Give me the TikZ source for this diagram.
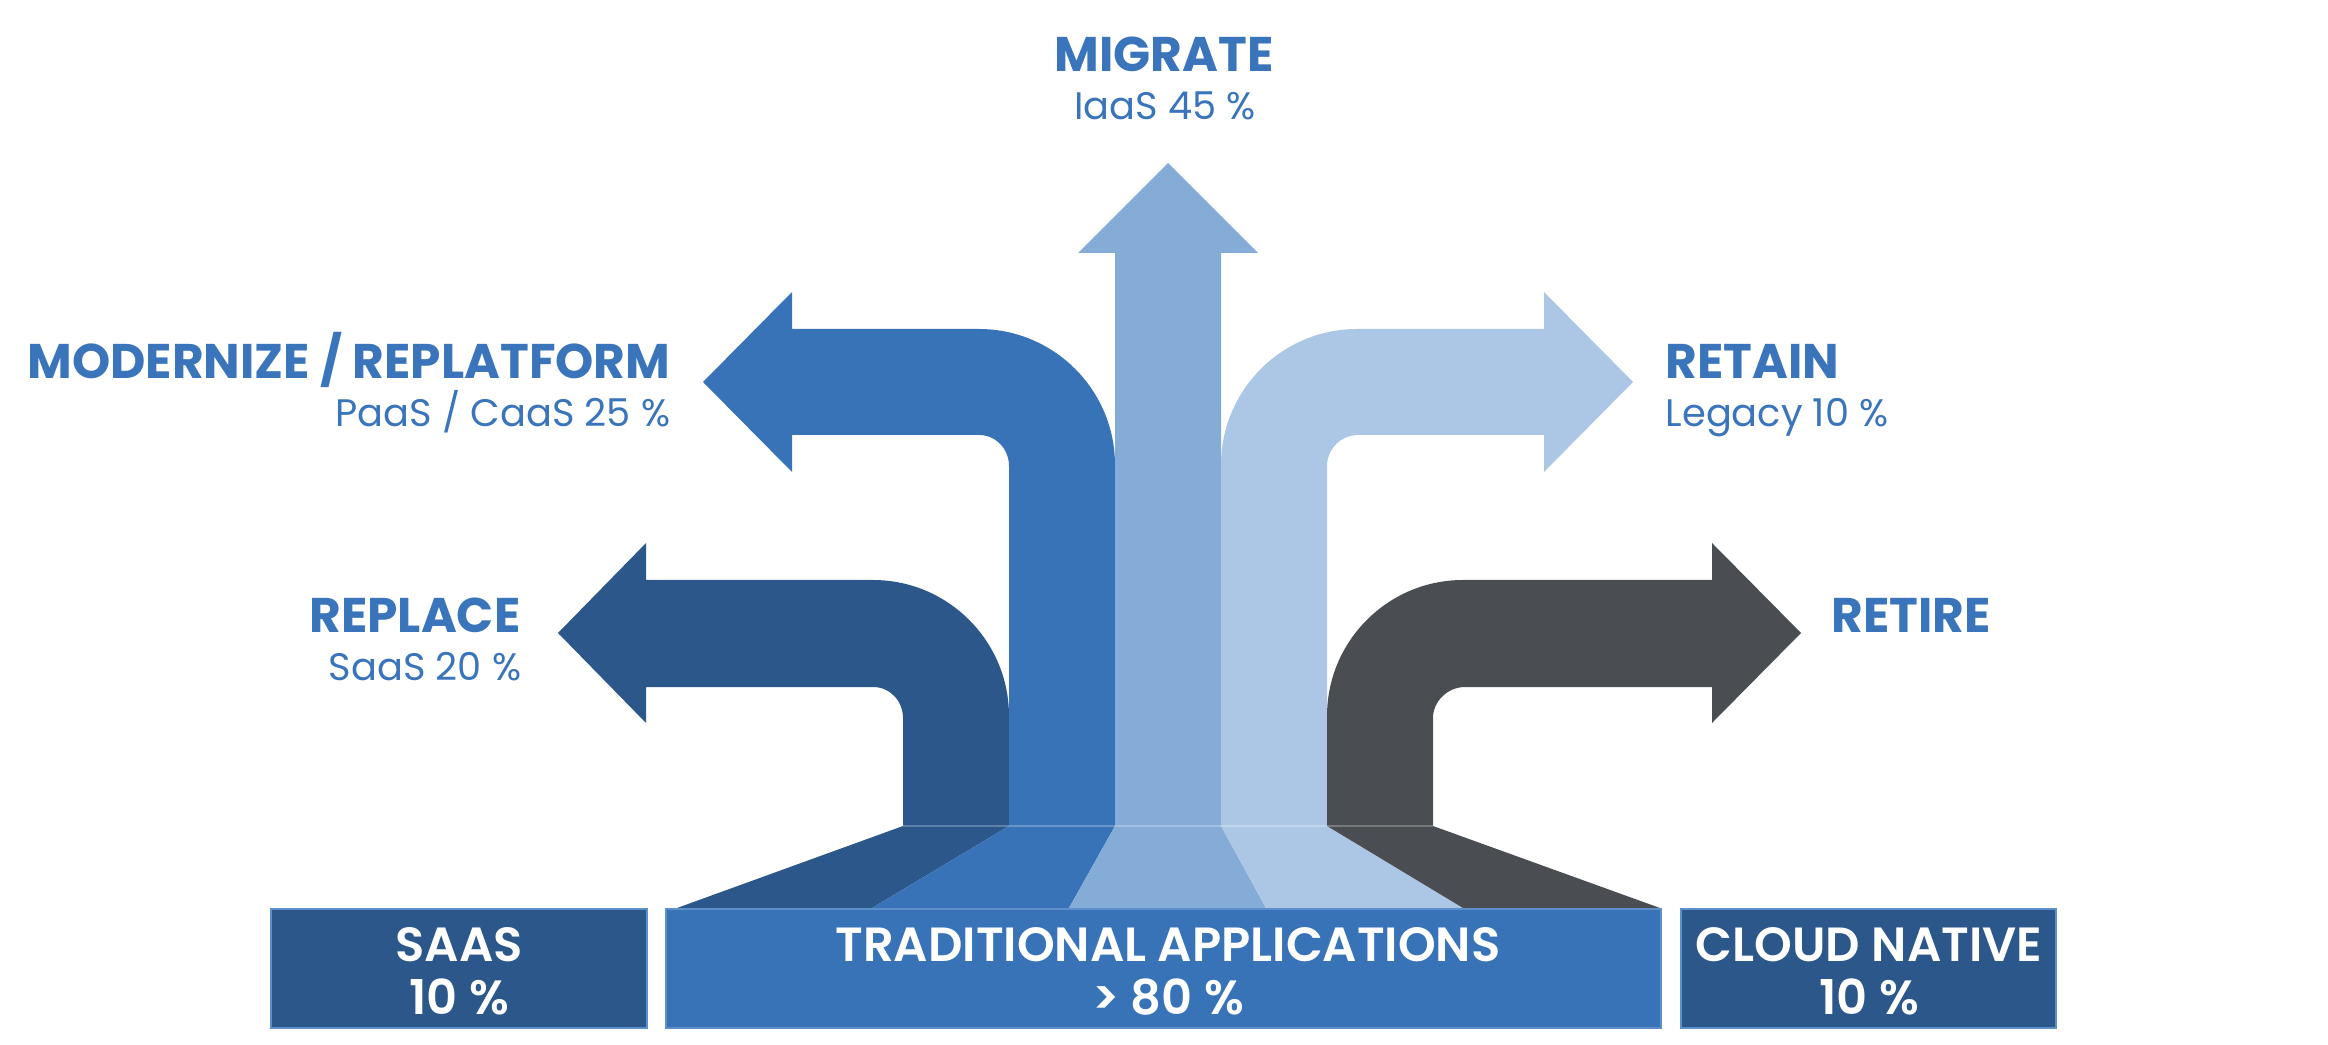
\documentclass[tikz,border=0pt]{standalone}
\usepackage{fontspec}
\setmainfont{Poppins}
\newfontfamily\semib{Poppins SemiBold}
\definecolor{cdark}{HTML}{2C578A}
\definecolor{cmid}{HTML}{3873B8}
\definecolor{cmig}{HTML}{84ACD7}
\definecolor{cret}{HTML}{ABC7E5}
\definecolor{cgray}{HTML}{4A4E52}
\definecolor{ctext}{HTML}{3A74BA}
\definecolor{cedge}{HTML}{5D8FCB}
\tikzset{
  title/.style={inner sep=0pt, text=ctext, font=\fontsize{14.6}{17}\selectfont\bfseries},
  sub/.style={inner sep=0pt, text=ctext, font=\fontsize{11.5}{14}\selectfont},
  boxtxt/.style={inner sep=0pt, text=white, font=\fontsize{14.4}{17}\selectfont\semib},
  boxshape/.style={draw=cedge, line width=0.35pt},
}
\begin{document}
\begin{tikzpicture}[x=0.3pt, y=-0.3pt]
\useasboundingbox (0,0) rectangle (2328,1045);
% REPLACE arrow
\fill[cdark] (1009,826) -- (1009,716) .. controls (1009,641) and (948,580) .. (873,580)
  -- (646,580) -- (646,543) -- (558,633) -- (646,723) -- (646,687) -- (873,687)
  .. controls (890,687) and (903,701) .. (903,718) -- (903,826) -- cycle;
% MODERNIZE arrow
\fill[cmid] (1115,826) -- (1115,465) .. controls (1115,390) and (1054,329) .. (979,329)
  -- (792,329) -- (792,292) -- (703,382) -- (792,472) -- (792,435) -- (979,435)
  .. controls (996,435) and (1009,449) .. (1009,466) -- (1009,826) -- cycle;
% MIGRATE arrow
\fill[cmig] (1115,826) -- (1115,253) -- (1078,253) -- (1168,163) -- (1258,253)
  -- (1221,253) -- (1221,826) -- cycle;
% RETAIN arrow
\fill[cret] (1221,826) -- (1221,465) .. controls (1221,390) and (1282,329) .. (1357,329)
  -- (1544,329) -- (1544,292) -- (1633,382) -- (1544,472) -- (1544,435) -- (1358,435)
  .. controls (1341,435) and (1327,449) .. (1327,466) -- (1327,826) -- cycle;
% RETIRE arrow
\fill[cgray] (1327,826) -- (1327,716) .. controls (1327,641) and (1388,580) .. (1463,580)
  -- (1712,580) -- (1712,543) -- (1801,633) -- (1712,723) -- (1712,687) -- (1465,687)
  .. controls (1448,687) and (1433,701) .. (1433,718) -- (1433,826) -- cycle;
% funnel
\fill[cdark] (903,826) -- (1009,826) -- (872,908) -- (677,908) -- cycle;
\fill[cmid]  (1009,826) -- (1115,826) -- (1069,908) -- (872,908) -- cycle;
\fill[cmig]  (1115,826) -- (1221,826) -- (1266,908) -- (1069,908) -- cycle;
\fill[cret]  (1221,826) -- (1327,826) -- (1463,908) -- (1266,908) -- cycle;
\fill[cgray] (1327,826) -- (1433,826) -- (1660,908) -- (1463,908) -- cycle;
\draw[white, opacity=0.25, line width=0.35pt] (903,826) -- (1433,826);
% boxes
\fill[cdark, boxshape] (271,909) rectangle (647,1028);
\fill[cmid, boxshape] (666,909) rectangle (1661,1028);
\fill[cdark, boxshape] (1681,909) rectangle (2056,1028);
% labels
\node[title, anchor=base] (migT) at (1164,72) {MIGRATE};
\node[sub, anchor=base] (migS) at (1165,120) {IaaS 45 \%};
\node[title, anchor=base east] (modT) at (671,379) {MODERNIZE / REPLATFORM};
\node[sub, anchor=base east] (modS) at (671,427) {PaaS / CaaS 25 \%};
\node[title, anchor=base east] (repT) at (521,633) {REPLACE};
\node[sub, anchor=base east] (repS) at (522,680) {SaaS 20 \%};
\node[title, anchor=base west] (retT) at (1665,379) {RETAIN};
\node[sub, anchor=base west] (retS) at (1665,427) {Legacy 10 \%};
\node[title, anchor=base west] (rtrT) at (1831,633) {RETIRE};
% box texts
\node[boxtxt, anchor=base] (saasA) at (459,961) {SAAS};
\node[boxtxt, anchor=base] (saasB) at (459,1014) {10 \%};
\node[boxtxt, anchor=base] (tradA) at (1168,961) {TRADITIONAL APPLICATIONS};
\node[boxtxt, anchor=base] (tradB) at (1168,1014) {> 80 \%};
\node[boxtxt, anchor=base] (cloudA) at (1869,961) {CLOUD NATIVE};
\node[boxtxt, anchor=base] (cloudB) at (1869,1014) {10 \%};
\end{tikzpicture}
\end{document}
